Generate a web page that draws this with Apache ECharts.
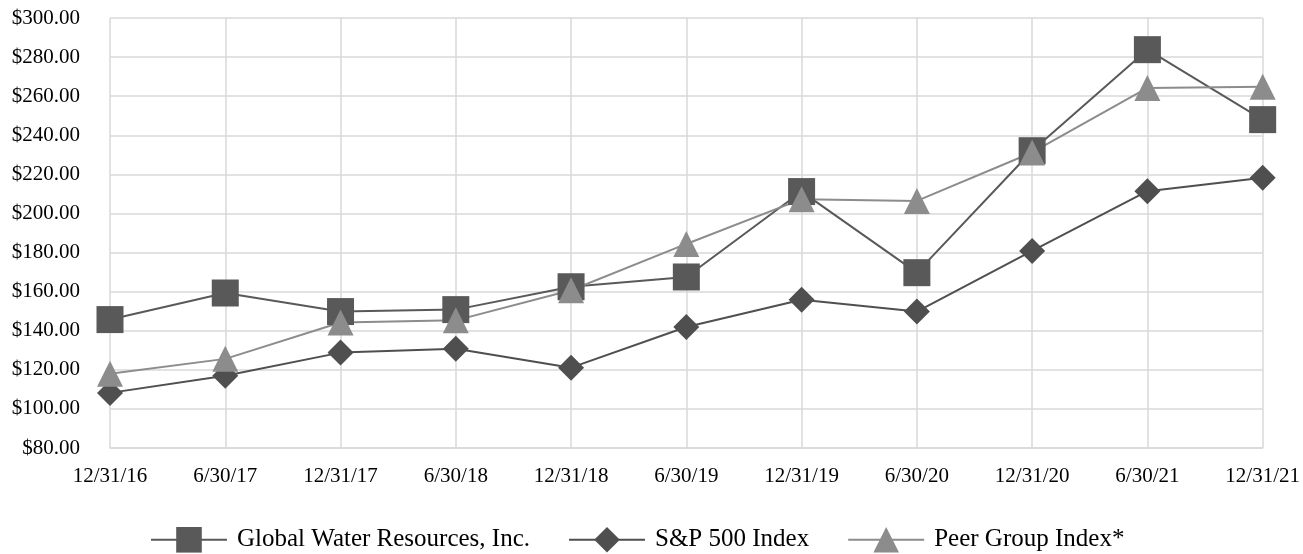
<!DOCTYPE html>
<html>
<head>
<meta charset="utf-8">
<script src="https://cdn.jsdelivr.net/npm/echarts@6/dist/echarts.min.js"></script>
<style>html,body{margin:0;padding:0;background:#fff}#c{width:1303px;height:554px}</style>
</head>
<body>
<div id="c"></div>
<script>
var categories = ['12/31/16','6/30/17','12/31/17','6/30/18','12/31/18','6/30/19','12/31/19','6/30/20','12/31/20','6/30/21','12/31/21'];
var globalWater = [145.7, 159.3, 149.8, 150.8, 162.5, 167.5, 211.2, 169.7, 232.1, 283.8, 248.0];
var sp500 = [108.2, 117.0, 128.8, 130.8, 121.1, 141.9, 155.8, 149.8, 180.8, 211.4, 218.3];
var peerGroup = [118.0, 125.6, 144.2, 145.3, 160.7, 184.4, 207.3, 206.4, 231.2, 264.2, 264.8];
var seriesNames = ['Global Water Resources, Inc.', 'S&P 500 Index', 'Peer Group Index*'];

var font = 'Liberation Serif, Times New Roman, serif';
var chart = echarts.init(document.getElementById('c'));
chart.setOption({
  animation: false,
  grid: { left: 110, right: 37, top: 18, bottom: 106 },
  legend: {
    top: 527,
    left: 150,
    padding: 0,
    itemWidth: 76,
    itemHeight: 32,
    itemGap: 38,
    textStyle: { fontFamily: font, fontSize: 25, color: '#000', padding: [0, 0, 0, 5] },
    data: seriesNames
  },
  xAxis: {
    type: 'category',
    data: categories,
    boundaryGap: false,
    axisLine: { lineStyle: { color: '#d9d9d9', width: 1.5 } },
    axisTick: { show: false },
    axisLabel: { fontFamily: font, fontSize: 21, color: '#000', margin: 18 },
    splitLine: { show: true, lineStyle: { color: '#d9d9d9', width: 1.5 } }
  },
  yAxis: {
    type: 'value',
    min: 80, max: 300, interval: 20,
    axisLine: { show: false },
    axisTick: { show: false },
    axisLabel: { fontFamily: font, fontSize: 21, color: '#000', margin: 30, padding: [8,0,0,0],
      formatter: function (v) { return '$' + v.toFixed(2); } },
    splitLine: { show: true, lineStyle: { color: '#d9d9d9', width: 1.5 } }
  },
  series: [
    { name: seriesNames[0], type: 'line', data: globalWater, symbol: 'rect', symbolSize: 27,
      lineStyle: { color: '#595959', width: 2 }, itemStyle: { color: '#595959' } },
    { name: seriesNames[1], type: 'line', data: sp500, symbol: 'diamond', symbolSize: 26,
      lineStyle: { color: '#4f4f4f', width: 2 }, itemStyle: { color: '#4f4f4f' } },
    { name: seriesNames[2], type: 'line', data: peerGroup, symbol: 'triangle', symbolSize: 26,
      lineStyle: { color: '#8c8c8c', width: 2 }, itemStyle: { color: '#8c8c8c' } }
  ]
});
</script>
</body>
</html>
